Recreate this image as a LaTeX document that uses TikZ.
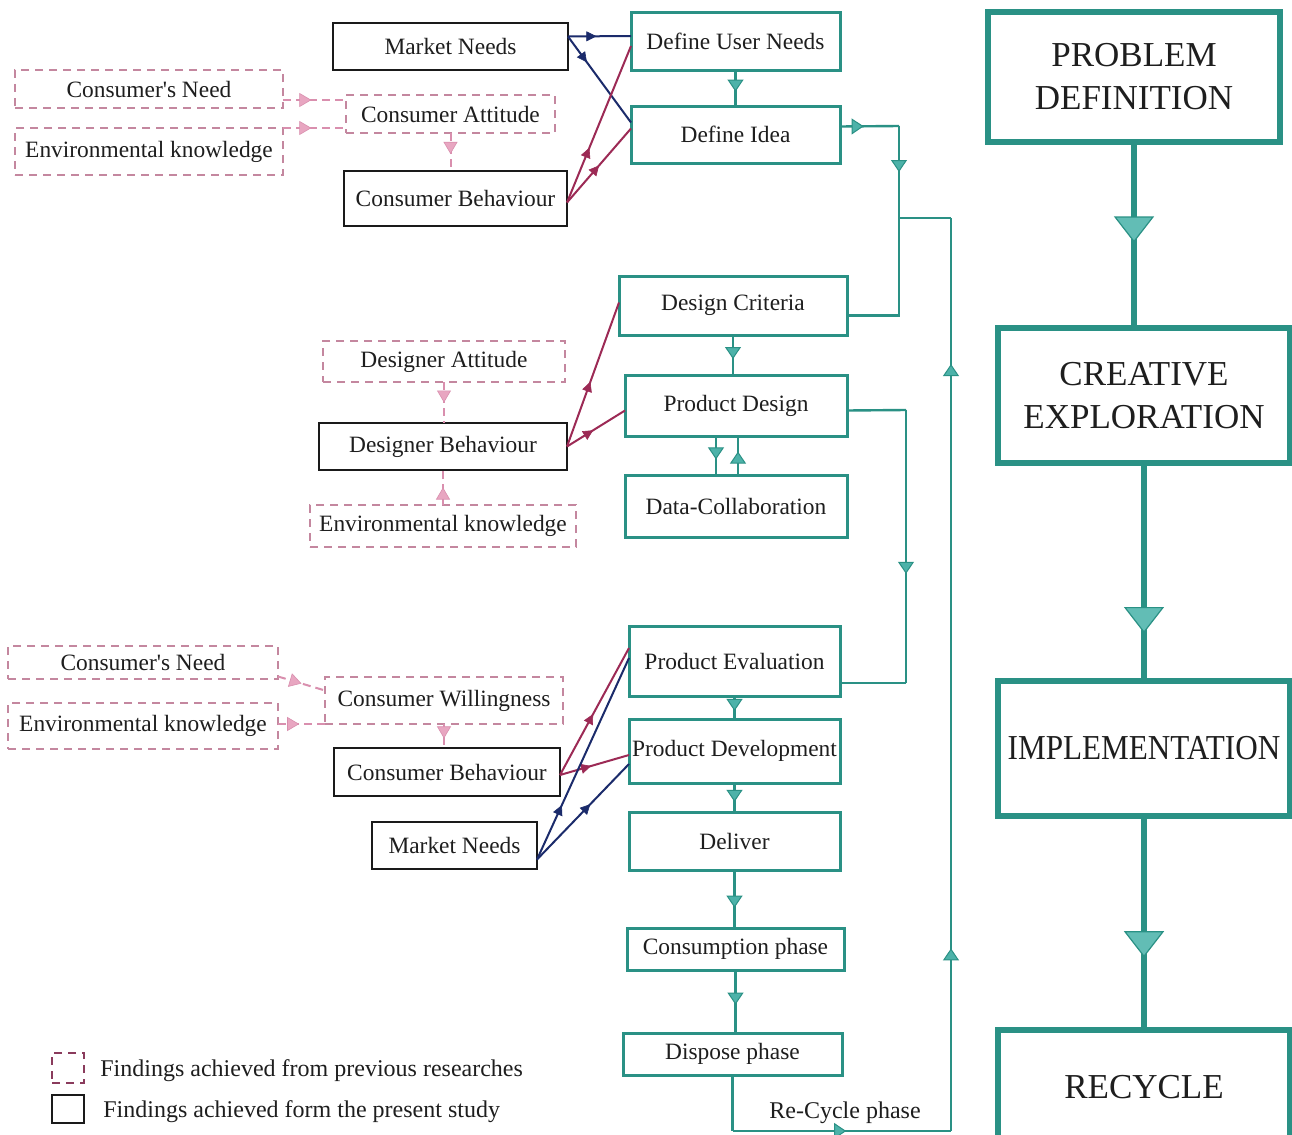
\documentclass[tikz,border=0pt]{standalone}
\usepackage{fontspec}
\usepackage{graphicx}
\setmainfont{Liberation Serif}
\newfontfamily\nomapfont{Liberation Serif}
\usetikzlibrary{arrows.meta,decorations.markings,calc}
\definecolor{tealC}{HTML}{2A9185}
\definecolor{tealF}{HTML}{4DB2A9}
\definecolor{tealB}{HTML}{62BDB5}
\definecolor{navyC}{HTML}{1B2B6B}
\definecolor{maroonC}{HTML}{9C2A55}
\definecolor{pinkC}{HTML}{C4879F}
\definecolor{pinkL}{HTML}{D98FAE}
\definecolor{pinkF}{HTML}{E8A6C1}
\definecolor{txtC}{HTML}{1E1E1E}
\definecolor{blackC}{HTML}{1A1A1A}
\definecolor{legD}{HTML}{8A3B5C}
\newcommand\mybox[7]{\node[#6,minimum width={0.5pt*(#4-#2)},minimum height={0.5pt*(#5-#3)}] (#1) at ({(#2+#4)/2},{(#3+#5)/2}) {#7};}
\newcommand\apos{{\nomapfont'}}
\tikzset{
  basebox/.style={inner sep=0pt,outer sep=0pt,fill=white,text=txtC},
  tbox/.style={basebox,draw=tealC,line width=1.5pt},
  bbox/.style={basebox,draw=blackC,line width=1.4pt},
  dbox/.style={basebox,draw=pinkC,line width=1.2pt,dash pattern=on 4pt off 3pt},
  bigbox/.style={basebox,draw=tealC,line width=2.6pt,align=center,font=\fontsize{17.5}{21.5}\selectfont},
  tline/.style={draw=tealC,line width=1.2pt},
  nline/.style={draw=navyC,line width=1pt},
  mline/.style={draw=maroonC,line width=1pt},
  pline/.style={draw=pinkL,line width=1pt,dash pattern=on 4pt off 2.5pt},
  bigline/.style={draw=tealC,line width=3pt},
  tarr/.style={postaction={decorate,decoration={markings,mark=at position #1 with {\arrow{Triangle[width=8pt,length=6pt,fill=tealF,color=tealC,line width=0.5pt]}}}}},
  narr/.style={postaction={decorate,decoration={markings,mark=at position #1 with {\arrow{Triangle[width=5pt,length=5pt,fill=navyC,color=navyC,line width=0.3pt]}}}}},
  marr/.style={postaction={decorate,decoration={markings,mark=at position #1 with {\arrow{Triangle[width=5pt,length=5pt,fill=maroonC,color=maroonC,line width=0.3pt]}}}}},
  parr/.style={postaction={decorate,decoration={markings,mark=at position #1 with {\arrow{Triangle[width=7pt,length=6pt,fill=pinkF,color=pinkL,line width=0.3pt]}}}}},
  bigarr/.style={postaction={decorate,decoration={markings,mark=at position #1 with {\arrow{Triangle[width=20pt,length=13pt,fill=tealB,color=tealC,line width=0.6pt]}}}}},
}
\begin{document}
\begin{tikzpicture}[x=0.5pt,y=-0.5pt,font=\fontsize{11.7}{13.5}\selectfont]
\useasboundingbox (0,0) rectangle (1292,1135);
\fill[white] (0,0) rectangle (1292,1135);
\begin{scope}
\clip (0,0) rectangle (1292,1135);
% top-left cluster
\mybox{MNa}{333}{23}{568}{70}{bbox}{Market Needs}
\mybox{CNa}{15}{70}{283}{108}{dbox}{Consumer\apos s Need}
\mybox{EKa}{15}{128}{283}{175}{dbox}{Environmental knowledge}
\mybox{CAa}{346}{95}{555}{133}{dbox}{Consumer Attitude}
\mybox{CBa}{344}{171}{567}{226}{bbox}{Consumer Behaviour}
% middle column
\mybox{DUN}{631}{12}{840}{70}{tbox}{Define User Needs}
\mybox{DI}{631}{106}{840}{163}{tbox}{Define Idea}
\mybox{DC}{619}{276}{847}{335}{tbox}{Design Criteria}
\mybox{PDs}{625}{375}{847}{436}{tbox}{Product Design}
\mybox{DCo}{625}{475}{847}{537}{tbox}{Data-Collaboration}
\mybox{DA}{323}{341}{565}{382}{dbox}{Designer Attitude}
\mybox{DB}{319}{423}{567}{470}{bbox}{Designer Behaviour}
\mybox{EKb}{310}{505}{576}{547}{dbox}{Environmental knowledge}
% bottom cluster
\mybox{CNc}{8}{646}{278}{679}{dbox}{Consumer\apos s Need}
\mybox{EKc}{8}{703}{278}{749}{dbox}{Environmental knowledge}
\mybox{CW}{325}{677}{563}{724}{dbox}{Consumer Willingness}
\mybox{CBc}{334}{748}{560}{796}{bbox}{Consumer Behaviour}
\mybox{MNc}{372}{822}{537}{869}{bbox}{Market Needs}
\mybox{PE}{629}{626}{840}{696}{tbox}{Product Evaluation}
\mybox{PDv}{629}{719}{840}{783}{tbox}{Product Development}
\mybox{DL}{629}{812}{840}{870}{tbox}{Deliver}
\mybox{CP}{627}{928}{844}{970}{tbox}{Consumption phase}
\mybox{DP}{623}{1033}{842}{1075}{tbox}{Dispose phase}
% right column
\mybox{PRB}{988}{12}{1280}{142}{bigbox}{PROBLEM\\DEFINITION}
\mybox{CRE}{998}{328}{1290}{463}{bigbox}{CREATIVE\\EXPLORATION}
\mybox{IMP}{998}{681}{1290}{816}{bigbox}{\scalebox{0.89}[1]{IMPLEMENTATION}}
\mybox{REC}{998}{1030}{1290}{1145}{bigbox}{RECYCLE}
\node[text=txtC,font=\fontsize{12}{14}\selectfont] (RCP) at (845,1113) {Re-Cycle phase};
% legend
\mybox{LGa}{52}{1053}{84}{1083}{basebox,draw=legD,line width=1pt,dash pattern=on 4pt off 3pt}{}
\mybox{LGb}{52}{1095}{84}{1123}{basebox,draw=blackC,line width=1pt}{}
\node[anchor=west,text=txtC,font=\fontsize{12}{14}\selectfont,inner sep=0pt] (LTa) at (100,1071) {Findings achieved from previous researches};
\node[anchor=west,text=txtC,font=\fontsize{12}{14}\selectfont,inner sep=0pt] (LTb) at (103,1112) {Findings achieved form the present study};
% coordinates
\coordinate (c1) at (899,126);
\coordinate (c2) at (899,218);
\coordinate (c3) at (906,410);
\coordinate (c4) at (906,683);
\coordinate (c5) at (DP.south |- 0,1131);
\coordinate (c6) at (951,1131);
\coordinate (c7) at (951,218);
\coordinate (d1) at ($(PDs.south)+(-20,0)$);
\coordinate (d2) at ($(DCo.north)+(-20,0)$);
\coordinate (d3) at ($(DCo.north)+(2,0)$);
\coordinate (d4) at ($(PDs.south)+(2,0)$);
% top connectors
\draw[nline,narr=0.45] ($(MNa.east)+(0,-10)$) -- ($(DUN.west)+(0,-5)$);
\draw[nline,narr=0.3] ($(MNa.east)+(0,-10)$) -- ($(DI.west)+(0,-12)$);
\draw[mline,marr=0.35] ($(CBa.east)+(0,4)$) -- ($(DUN.west)+(0,5)$);
\draw[mline,marr=0.5] ($(CBa.east)+(0,4)$) -- ($(DI.west)+(0,-6)$);
\draw[pline,parr=0.45] ($(CNa.east)+(0,11)$) -- ($(CAa.west)+(0,-14)$);
\draw[pline,parr=0.45] (EKa.north east) -- ($(CAa.west)+(0,14)$);
\draw[pline,parr=0.55] (CAa.south) -- (CAa.south |- CBa.north);
% teal flow
\draw[tline,tarr=0.6] (DUN.south) -- (DI.north);
\draw[tline,tarr=0.4] ($(DI.east)+(0,-8)$) -- (c1);
\draw[tline,tarr=0.5] (c1) -- (c2);
\draw[tline] (c2) |- ($(DC.east)+(0,10)$);
\draw[tline] (DP.south) -- (c5);
\draw[tline,tarr=0.52] (c5) -- (c6);
\draw[tline,tarr=0.2,tarr=0.84] (c6) -- (c7);
\draw[tline] (c7) -- (c2);
\draw[tline,tarr=0.6] (DC.south) -- (DC.south |- PDs.north);
\draw[tline,tarr=0.6] (d1) -- (d2);
\draw[tline,tarr=0.6] (d3) -- (d4);
\draw[tline] ($(PDs.east)+(0,5)$) -- (c3);
\draw[tline,tarr=0.6] (c3) -- (c4);
\draw[tline] (c4) -- (c4 -| PE.east);
% middle cluster connectors
\draw[pline,parr=0.5] (DA.south) -- (DA.south |- DB.north);
\draw[pline,parr=0.5] (EKb.north) -- (EKb.north |- DB.south);
\draw[mline,marr=0.45] (DB.east) -- ($(DC.west)+(0,-3)$);
\draw[mline,marr=0.45] (DB.east) -- ($(PDs.west)+(0,5)$);
% bottom cluster connectors
\draw[pline,parr=0.5] ($(CNc.east)+(0,14)$) -- ($(CW.west)+(0,-10)$);
\draw[pline,parr=0.45] ($(EKc.east)+(0,-2)$) -- (CW.south west);
\draw[pline,parr=0.6] (CW.south) -- (CW.south |- CBc.north);
\draw[mline,marr=0.48] ($(CBc.east)+(0,3)$) -- ($(PE.west)+(0,-13)$);
\draw[mline,marr=0.45] ($(CBc.east)+(0,3)$) -- ($(PDv.west)+(0,4)$);
\draw[nline,narr=0.27] ($(MNc.east)+(0,14)$) -- ($(PE.west)+(0,-3)$);
\draw[nline,narr=0.58] ($(MNc.east)+(0,14)$) -- ($(PDv.west)+(0,13)$);
\draw[tline,tarr=0.65] (PE.south) -- (PDv.north);
\draw[tline,tarr=0.65] (PDv.south) -- (DL.north);
\draw[tline,tarr=0.65] (DL.south) -- (DL.south |- CP.north);
\draw[tline,tarr=0.55] (CP.south) -- (CP.south |- DP.north);
% right column connectors
\draw[bigline,bigarr=0.54] (PRB.south) -- (PRB.south |- CRE.north);
\draw[bigline,bigarr=0.78] (CRE.south) -- (IMP.north);
\draw[bigline,bigarr=0.66] (IMP.south) -- (REC.north);
\end{scope}
\end{tikzpicture}
\end{document}
